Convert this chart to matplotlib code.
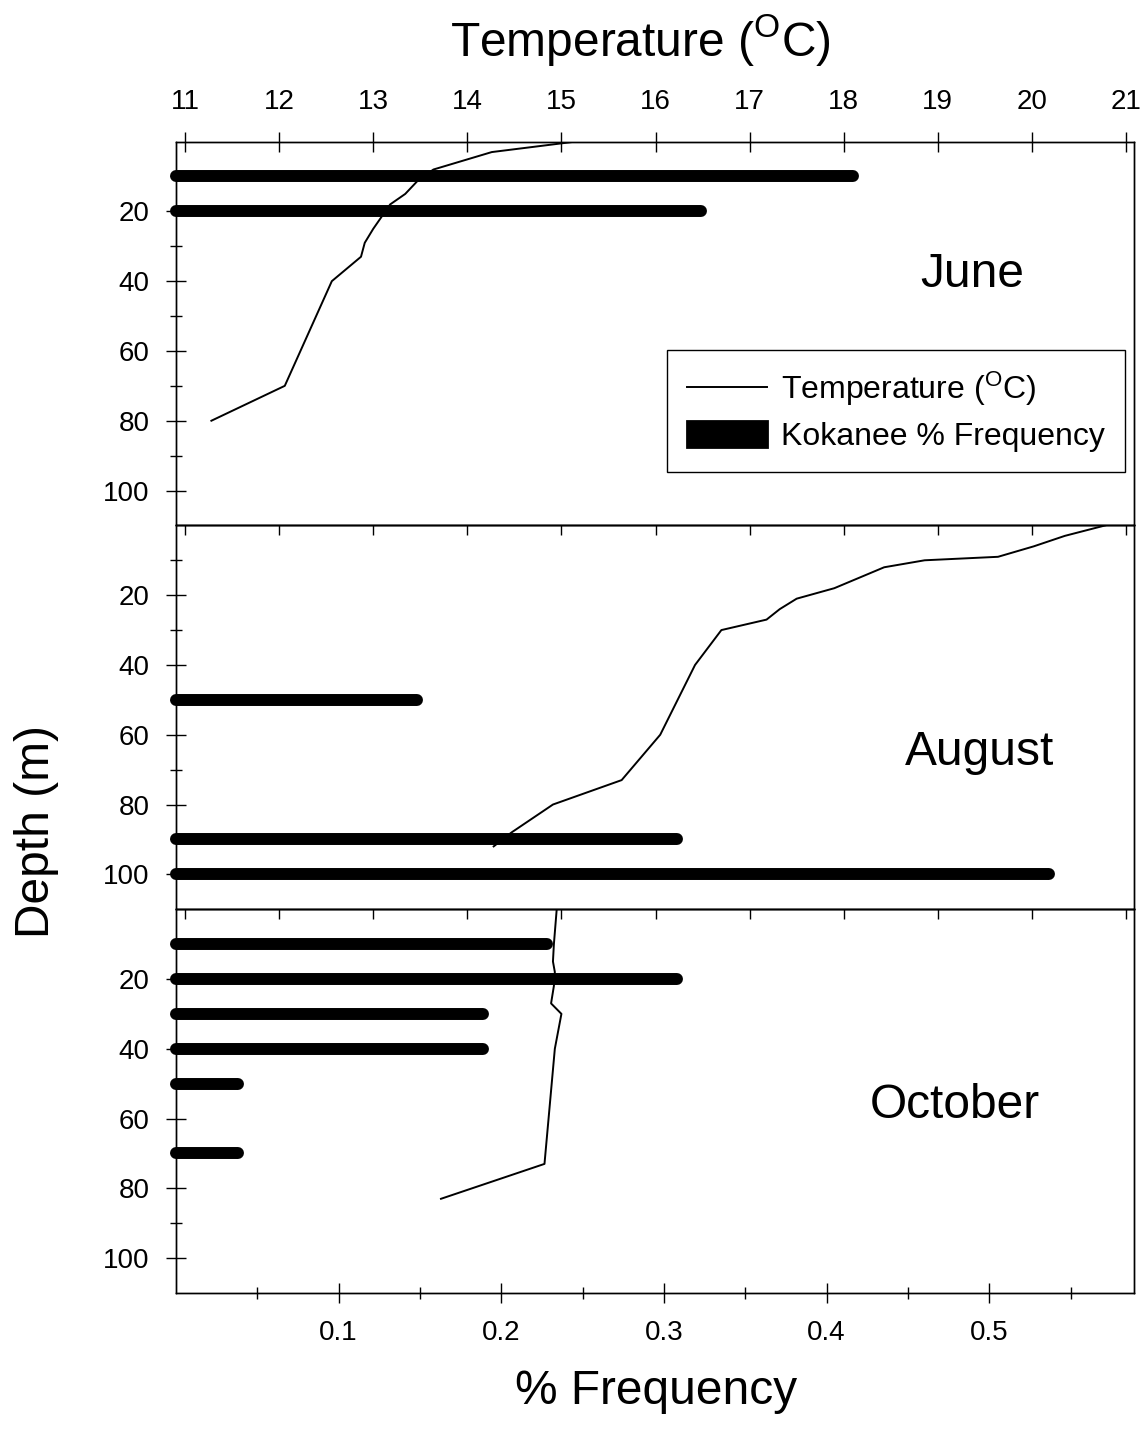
import matplotlib
matplotlib.use('Agg')
import matplotlib.pyplot as plt
from matplotlib.lines import Line2D
from matplotlib.patches import Patch
from matplotlib.ticker import FixedLocator

plt.rcParams['font.family'] = ['Liberation Sans', 'DejaVu Sans']
plt.rcParams['mathtext.fontset'] = 'custom'
plt.rcParams['mathtext.rm'] = 'Liberation Sans'
plt.rcParams['mathtext.it'] = 'Liberation Sans:italic'

# Datos
months = ['June', 'August', 'October']

june_t_depth = [0, 3, 8, 11, 15, 18, 25, 29, 33, 40, 70, 80]
june_temp = [15.15, 14.26, 13.64, 13.48, 13.34, 13.18, 13.0, 12.91, 12.87, 12.56, 12.06, 11.28]
june_f_depth = [10, 20]
june_freq = [0.416, 0.323]

aug_t_depth = [0, 3, 6, 9, 10, 12, 18, 21, 24, 27, 30, 40, 60, 73, 80, 88, 92]
aug_temp = [20.78, 20.35, 20.02, 19.64, 18.86, 18.43, 17.90, 17.50, 17.32, 17.18,
            16.70, 16.42, 16.05, 15.64, 14.91, 14.47, 14.28]
aug_f_depth = [50, 90, 100]
aug_freq = [0.148, 0.308, 0.537]

oct_t_depth = [0, 10, 15, 18, 22, 27, 30, 40, 73, 83]
oct_temp = [14.95, 14.92, 14.91, 14.93, 14.92, 14.89, 15.0, 14.93, 14.82, 13.72]
oct_f_depth = [10, 20, 30, 40, 50, 70]
oct_freq = [0.228, 0.308, 0.189, 0.189, 0.038, 0.038]

temp_ticks = list(range(11, 22))
freq_ticks = [0.1, 0.2, 0.3, 0.4, 0.5]
freq_minor = [0.05, 0.15, 0.25, 0.35, 0.45, 0.55]
depth_ticks = [20, 40, 60, 80, 100]
depth_minor = [10, 30, 50, 70, 90]

temps = [(june_t_depth, june_temp), (aug_t_depth, aug_temp), (oct_t_depth, oct_temp)]
freqs = [(june_f_depth, june_freq), (aug_f_depth, aug_freq), (oct_f_depth, oct_freq)]
month_pos = [(0.831, 0.655), (0.839, 0.407), (0.813, 0.4875)]

temp_label = r'Temperature ($\mathregular{^O}$C)'

W, H = 1144, 1442
fig = plt.figure(figsize=(W / 100, H / 100), dpi=100)

left = 176 / W
width = 958 / W
ph = 383.8 / H
bottom0 = 1 - 1293 / H

tick_fs = 20
big_fs = 34.5

for i in range(3):
    b = bottom0 + (2 - i) * ph
    ax = fig.add_axes([left, b, width, ph])
    axT = ax.twiny()
    ax.set_zorder(2)
    axT.set_zorder(1)
    ax.patch.set_visible(False)

    # temperatura (linea fina)
    d, t = temps[i]
    axT.plot(t, d, color='k', lw=1.4)
    axT.set_xlim(10.904, 21.085)

    # frecuencia (barras gruesas)
    fd, fv = freqs[i]
    ax.hlines(fd, 0, fv, colors='k', linewidth=8.6, capstyle='round', clip_on=False)
    ax.set_xlim(0, 0.589)
    ax.set_ylim(110, 0)

    for a in (ax, axT):
        for s in a.spines.values():
            s.set_linewidth(1.0)

    ax.yaxis.set_major_locator(FixedLocator(depth_ticks))
    ax.yaxis.set_minor_locator(FixedLocator(depth_minor))
    ax.tick_params(axis='y', which='major', direction='inout', length=14.4, width=1,
                   labelsize=tick_fs, pad=12)
    ax.tick_params(axis='y', which='minor', direction='inout', length=8.6, width=1)
    ax.tick_params(right=False, top=False, which='both')

    ax.xaxis.set_major_locator(FixedLocator(freq_ticks))
    ax.xaxis.set_minor_locator(FixedLocator(freq_minor))
    ax.set_xticklabels(['0.1', '0.2', '0.3', '0.4', '0.5'])
    if i == 2:
        ax.tick_params(axis='x', which='major', direction='inout', length=14.4, width=1,
                       labelsize=tick_fs, pad=12)
        ax.tick_params(axis='x', which='minor', direction='inout', length=8.6, width=1)
    else:
        ax.tick_params(axis='x', which='both', bottom=False, labelbottom=False)

    axT.xaxis.set_major_locator(FixedLocator(temp_ticks))
    axT.xaxis.set_minor_locator(FixedLocator([]))
    if i == 0:
        axT.tick_params(axis='x', direction='inout', length=13.7, width=1,
                        labelsize=tick_fs, pad=12)
    else:
        axT.tick_params(axis='x', direction='in', length=7, width=1, labeltop=False)

    ax.text(month_pos[i][0], month_pos[i][1], months[i], transform=ax.transAxes,
            ha='center', va='center', fontsize=big_fs)

    if i == 0:
        h1 = Line2D([], [], color='k', lw=1.4)
        h2 = Patch(facecolor='k', edgecolor='k', linewidth=2, joinstyle='round')
        leg = ax.legend([h1, h2], [temp_label, 'Kokanee % Frequency'],
                        loc='center', bbox_to_anchor=(0.7515, 0.2985), fontsize=23,
                        frameon=True, fancybox=False, edgecolor='k', framealpha=1,
                        handlelength=2.5, handleheight=0.9, handletextpad=0.45,
                        borderpad=0.62, labelspacing=0.4, borderaxespad=0)
        leg.get_frame().set_linewidth(1.0)

fig.text(640 / W, 1 - 40 / H, temp_label, ha='center', va='center', fontsize=big_fs)
fig.text(656 / W, 1 - 1392 / H, '% Frequency', ha='center', va='center', fontsize=big_fs)
fig.text(37 / W, 1 - 831 / H, 'Depth (m)', ha='center', va='center', rotation=90,
         fontsize=big_fs)

fig.savefig('out.png', dpi=100)
